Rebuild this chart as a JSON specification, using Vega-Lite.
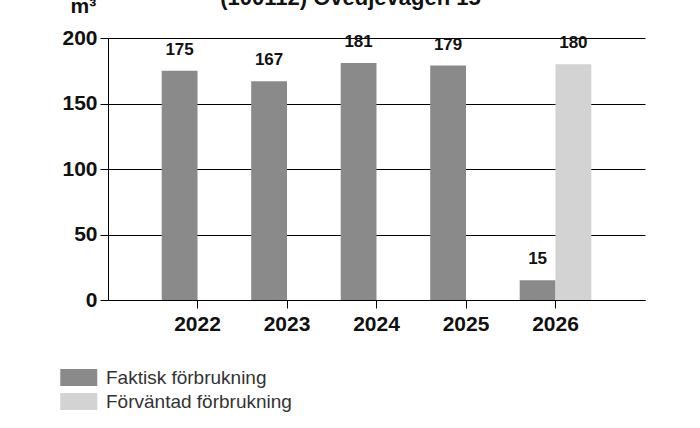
{
  "$schema": "https://vega.github.io/schema/vega-lite/v6.json",
  "width": 537,
  "height": 262,
  "autosize": {"type": "none"},
  "padding": {"left": 108, "top": 38, "right": 55, "bottom": 128},
  "background": "white",
  "config": {"view": {"stroke": null}, "font": "Liberation Sans"},
  "title": {"text": "(100112) Övedjevägen 15", "fontSize": 22, "fontWeight": "bold", "color": "#111", "anchor": "middle", "frame": "group", "dx": -26, "offset": -15},
  "data": {"values": [
    {"year": "2022", "series": "Faktisk förbrukning", "value": 175},
    {"year": "2023", "series": "Faktisk förbrukning", "value": 167},
    {"year": "2024", "series": "Faktisk förbrukning", "value": 181},
    {"year": "2025", "series": "Faktisk förbrukning", "value": 179},
    {"year": "2026", "series": "Faktisk förbrukning", "value": 15},
    {"year": "2026", "series": "Förväntad förbrukning", "value": 180}
  ]},
  "encoding": {
    "x": {"field": "year", "type": "ordinal", "scale": {"paddingInner": 0.2, "paddingOuter": 0.6},
      "axis": {"title": null, "labelAngle": 0, "labelFontSize": 21, "labelFontWeight": "bold", "labelColor": "#111", "labelPadding": 5, "tickSize": 8, "tickColor": "#000", "domainColor": "#000", "domainWidth": 1}},
    "xOffset": {"field": "series", "type": "nominal", "scale": {"domain": ["Faktisk förbrukning", "Förväntad förbrukning"], "paddingInner": 0, "paddingOuter": 0}}
  },
  "layer": [
    {
      "mark": {"type": "bar"},
      "encoding": {
        "y": {"field": "value", "type": "quantitative", "scale": {"domain": [0, 200]},
          "axis": {"title": "m³", "titleAngle": 0, "titleAlign": "left", "titleBaseline": "alphabetic", "titleX": -38, "titleY": -26, "titleFontSize": 21, "titleFontWeight": "bold", "titleColor": "#111",
            "values": [0, 50, 100, 150, 200], "labelFontSize": 21, "labelFontWeight": "bold", "labelColor": "#111", "labelPadding": 3, "tickSize": 8, "tickColor": "#000", "domainColor": "#000", "grid": true, "gridColor": "#000", "gridOpacity": 1}},
        "color": {"field": "series", "type": "nominal",
          "scale": {"domain": ["Faktisk förbrukning", "Förväntad förbrukning"], "range": ["#8a8a8a", "#d3d3d3"]},
          "legend": {"title": null, "orient": "none", "legendX": -48, "legendY": 330, "symbolType": "M-1,-0.92H3V0.92H-1Z", "symbolSize": 342, "symbolStrokeWidth": 0, "symbolOpacity": 1, "labelFontSize": 19, "labelColor": "#333", "labelOffset": 27, "labelLimit": 0, "rowPadding": 4}}
      }
    },
    {
      "mark": {"type": "text", "baseline": "alphabetic", "dy": -16, "fontSize": 17, "fontWeight": "bold", "color": "#111"},
      "encoding": {
        "y": {"field": "value", "type": "quantitative"},
        "text": {"field": "value", "type": "quantitative"}
      }
    }
  ]
}
